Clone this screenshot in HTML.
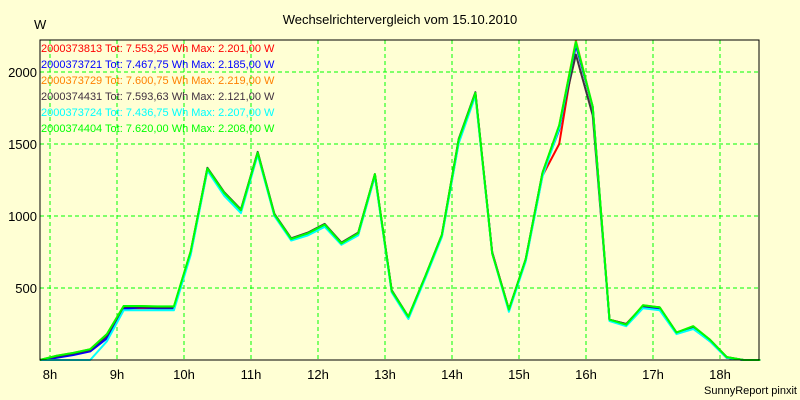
<!DOCTYPE html>
<html><head><meta charset="utf-8"><style>
body{margin:0;background:#ffffd4;}
svg{display:block;font-family:"Liberation Sans",sans-serif;}
</style></head><body>
<svg id="chart" width="800" height="400">
<rect x="0" y="0" width="800" height="400" fill="#ffffd4"/>
<text x="400" y="24" text-anchor="middle" font-size="13" fill="#000">Wechselrichtervergleich vom 15.10.2010</text>
<text x="34" y="29" font-size="13" fill="#000">W</text>
<text x="797" y="394" text-anchor="end" font-size="11" fill="#000">SunnyReport pinxit</text>
<g id="grid"></g><g id="axes"></g><g id="series"></g><g id="legend"></g>
<rect x="40" y="40" width="719" height="320" fill="none" stroke="#000" stroke-width="1"/>
</svg>
<script>
const yTicks=[500,1000,1500,2000];
const xTicks=[8,9,10,11,12,13,14,15,16,17,18];
const xLabels=["8h","9h","10h","11h","12h","13h","14h","15h","16h","17h","18h"];
const startHour=7.85, stepHour=0.25;
const seriesNames=["2000373813","2000373721","2000373729","2000374431","2000373724","2000374404"];
const seriesTot=["7.553,25","7.467,75","7.600,75","7.593,63","7.436,75","7.620,00"];
const seriesMax=["2.201,00","2.185,00","2.219,00","2.121,00","2.207,00","2.208,00"];
const seriesColors=["#ff0000","#0000ff","#ff8000","#403040","#00ffff","#00ff00"];
const s1=[0,20,40,65,160,360,360,360,360,740,1320,1150,1030,1430,1010,840,870,930,810,870,1280,480,295,575,860,1510,1840,750,350,690,1280,1500,2201,1750,280,250,370,360,185,225,135,15,0,0];
const s2=[0,15,35,60,150,355,365,360,360,740,1325,1150,1030,1435,1005,835,875,935,805,875,1285,475,295,575,865,1520,1850,745,345,695,1290,1600,2185,1760,275,245,370,355,185,220,130,15,0,0];
const s3=[0,30,50,75,180,375,375,370,370,755,1330,1160,1040,1440,1010,840,880,940,810,880,1290,480,300,580,870,1530,1855,740,350,700,1300,1630,2219,1760,280,245,380,365,190,235,140,20,0,0];
const s4=[0,25,45,70,170,370,370,365,365,750,1335,1165,1045,1445,1015,845,885,945,815,885,1290,485,300,580,870,1535,1860,745,350,700,1300,1620,2121,1700,280,250,375,365,190,230,140,20,0,0];
const s5=[0,0,0,0,130,345,345,345,345,730,1315,1140,1020,1425,1000,830,865,925,800,865,1275,470,285,565,855,1505,1835,740,335,685,1275,1610,2207,1755,270,235,360,345,180,215,130,15,0,0];
const s6=[0,30,50,75,180,375,375,372,372,755,1330,1160,1040,1440,1010,840,880,940,810,880,1290,480,300,580,870,1530,1855,740,350,700,1300,1630,2208,1760,280,245,380,365,190,235,140,20,0,0];
const allSeries=[s1,s2,s3,s4,s5,s6];
const NS="http://www.w3.org/2000/svg";
function xs(h){return 50+67*(h-8);}
function ys(v){return 360-0.144*v;}
function mk(tag,attrs,parent){const e=document.createElementNS(NS,tag);for(const k in attrs)e.setAttribute(k,attrs[k]);parent.appendChild(e);return e;}
const grid=document.getElementById('grid'),axes=document.getElementById('axes'),ser=document.getElementById('series'),leg=document.getElementById('legend');
yTicks.forEach(v=>{
 const l=mk('line',{x1:40,x2:759,y1:ys(v),y2:ys(v),stroke:'#00ff00','stroke-dasharray':'4,3'},grid);
 
 
 const t=mk('text',{x:37,y:ys(v)+5,'text-anchor':'end','font-size':13,fill:'#000'},axes);
 t.textContent=String(v);
 
 
});
xTicks.forEach((h,i)=>{
 const l=mk('line',{x1:xs(h),x2:xs(h),y1:40,y2:360,stroke:'#00ff00','stroke-dasharray':'4,3'},grid);
 
 
 const t=mk('text',{x:xs(h),y:379,'text-anchor':'middle','font-size':13,fill:'#000'},axes);
 t.textContent=xLabels[i];
 
 
});
allSeries.forEach((s,k)=>{
 const pts=s.map((v,i)=>xs(startHour+stepHour*i).toFixed(1)+','+ys(v).toFixed(1)).join(' ');
 const p=mk('polyline',{points:pts,fill:'none',stroke:seriesColors[k],'stroke-width':2,'stroke-linejoin':'round'},ser);
 
 
 const t=mk('text',{x:41,y:52+16*k,'font-size':11,fill:seriesColors[k]},leg);
 t.textContent=seriesNames[k]+' Tot: '+seriesTot[k]+' Wh Max: '+seriesMax[k]+' W';
 
 
});
</script>
</body></html>
